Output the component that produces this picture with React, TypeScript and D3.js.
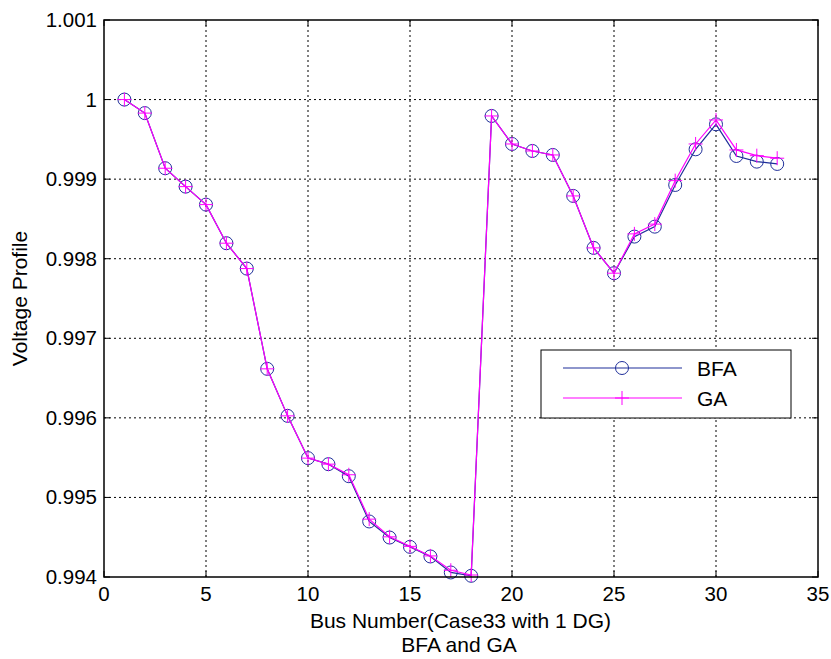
import React from "react";
import * as d3 from "d3";

// Bus voltage profile, Case33 with 1 DG
const buses: number[] = d3.range(1, 34);

const bfaVoltage: number[] = [
  1.0, 0.99983, 0.999137, 0.998906, 0.99868, 0.998195, 0.997876, 0.996616,
  0.996025, 0.995494, 0.995418, 0.995267, 0.994698, 0.994496, 0.994379,
  0.994258, 0.994057, 0.994015, 0.999794, 0.999442, 0.999354, 0.999304,
  0.998789, 0.998136, 0.997818, 0.998278, 0.998403, 0.998927, 0.999375,
  0.999689, 0.999291, 0.99922, 0.999191,
];

const gaVoltage: number[] = [
  1.0, 0.99983, 0.999137, 0.998906, 0.99868, 0.998195, 0.997876, 0.996616,
  0.996025, 0.995494, 0.995418, 0.995285, 0.994727, 0.994505, 0.994385,
  0.994265, 0.994085, 0.994025, 0.999794, 0.999442, 0.999354, 0.999304,
  0.998789, 0.998136, 0.997818, 0.998312, 0.998435, 0.998981, 0.999442,
  0.999744, 0.999367, 0.999295, 0.999263,
];

const xTicks: number[] = [0, 5, 10, 15, 20, 25, 30, 35];
const yTicks: number[] = [0.994, 0.995, 0.996, 0.997, 0.998, 0.999, 1.0, 1.001];
const yTickLabels: string[] = ["0.994", "0.995", "0.996", "0.997", "0.998", "0.999", "1", "1.001"];

const W = 831;
const H = 659;
const left = 104;
const right = 818;
const top = 20;
const bottom = 577;

const BLUE = "#1f2f9a";
const MAGENTA = "#ff00ff";
const FONT = "Arial, 'Liberation Sans', sans-serif";

export default function App() {
  const x = d3.scaleLinear().domain([0, 35]).range([left, right]);
  const y = d3.scaleLinear().domain([0.994, 1.001]).range([bottom, top]);

  const line = d3
    .line<[number, number]>()
    .x((d) => x(d[0]))
    .y((d) => y(d[1]));

  const bfaPts: [number, number][] = buses.map((b, i) => [b, bfaVoltage[i]]);
  const gaPts: [number, number][] = buses.map((b, i) => [b, gaVoltage[i]]);

  const plusSize = 7;

  const legX = 541;
  const legY = 350;
  const legW = 250;
  const legH = 68;

  return (
    <svg
      width={W}
      height={H}
      style={{ position: "absolute", left: 0, top: 0, background: "#fff" }}
      fontFamily={FONT}
    >
      <rect x={0} y={0} width={W} height={H} fill="#fff" />

      {/* grid */}
      {xTicks.slice(1, -1).map((t) => (
        <line
          key={`gx${t}`}
          x1={x(t)}
          x2={x(t)}
          y1={top}
          y2={bottom}
          stroke="#000"
          strokeWidth={1}
          strokeDasharray="2,3"
        />
      ))}
      {yTicks.slice(1, -1).map((t) => (
        <line
          key={`gy${t}`}
          x1={left}
          x2={right}
          y1={y(t)}
          y2={y(t)}
          stroke="#000"
          strokeWidth={1}
          strokeDasharray="2,3"
        />
      ))}

      {/* tick marks inside the box */}
      {xTicks.map((t) => (
        <g key={`tx${t}`}>
          <line x1={x(t)} x2={x(t)} y1={bottom} y2={bottom - 6} stroke="#000" />
          <line x1={x(t)} x2={x(t)} y1={top} y2={top + 6} stroke="#000" />
        </g>
      ))}
      {yTicks.map((t) => (
        <g key={`ty${t}`}>
          <line x1={left} x2={left + 6} y1={y(t)} y2={y(t)} stroke="#000" />
          <line x1={right} x2={right - 6} y1={y(t)} y2={y(t)} stroke="#000" />
        </g>
      ))}

      {/* series */}
      <path d={line(bfaPts) || ""} fill="none" stroke={BLUE} strokeWidth={1.2} />
      {bfaPts.map((d, i) => (
        <circle
          key={`c${i}`}
          cx={x(d[0])}
          cy={y(d[1])}
          r={6.5}
          fill="none"
          stroke={BLUE}
          strokeWidth={1}
        />
      ))}
      <path d={line(gaPts) || ""} fill="none" stroke={MAGENTA} strokeWidth={1.2} />
      {gaPts.map((d, i) => (
        <path
          key={`p${i}`}
          d={`M${x(d[0]) - plusSize},${y(d[1])}H${x(d[0]) + plusSize}M${x(d[0])},${
            y(d[1]) - plusSize
          }V${y(d[1]) + plusSize}`}
          stroke={MAGENTA}
          strokeWidth={1}
          fill="none"
        />
      ))}

      {/* axes box */}
      <rect
        x={left}
        y={top}
        width={right - left}
        height={bottom - top}
        fill="none"
        stroke="#000"
        strokeWidth={1.5}
      />

      {/* tick labels */}
      {xTicks.map((t) => (
        <text
          key={`lx${t}`}
          x={x(t)}
          y={bottom + 24}
          textAnchor="middle"
          fontSize={20.5}
          fill="#000"
        >
          {t}
        </text>
      ))}
      {yTicks.map((t, i) => (
        <text
          key={`ly${t}`}
          x={left - 7}
          y={y(t) + 7}
          textAnchor="end"
          fontSize={20.5}
          fill="#000"
        >
          {yTickLabels[i]}
        </text>
      ))}

      {/* axis labels */}
      <text x={460.5} y={628} textAnchor="middle" fontSize={21} fill="#000">
        Bus Number(Case33 with 1 DG)
      </text>
      <text x={459} y={652} textAnchor="middle" fontSize={21} fill="#000">
        BFA and GA
      </text>
      <text
        transform={`translate(27,${(top + bottom) / 2}) rotate(-90)`}
        textAnchor="middle"
        fontSize={21}
        fill="#000"
      >
        Voltage Profile
      </text>

      {/* legend */}
      <rect x={legX} y={legY} width={legW} height={legH} fill="#fff" stroke="#000" strokeWidth={1} />
      <line x1={563} x2={682} y1={368} y2={368} stroke={BLUE} strokeWidth={1.2} />
      <circle cx={622} cy={368} r={6.5} fill="none" stroke={BLUE} strokeWidth={1} />
      <text x={697} y={375.5} fontSize={21} fill="#000">
        BFA
      </text>
      <line x1={563} x2={682} y1={398} y2={398} stroke={MAGENTA} strokeWidth={1.2} />
      <path d={`M${622 - plusSize},398H${622 + plusSize}M622,${398 - plusSize}V${398 + plusSize}`} stroke={MAGENTA} strokeWidth={1} />
      <text x={697} y={405.5} fontSize={21} fill="#000">
        GA
      </text>
    </svg>
  );
}
